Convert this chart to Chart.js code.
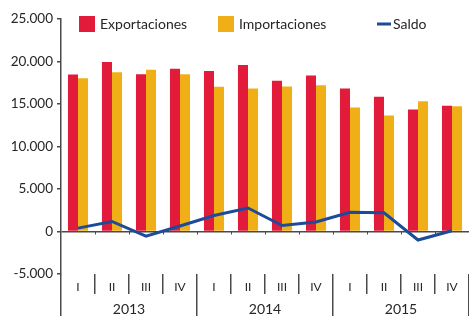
<!DOCTYPE html>
<html>
<head>
<meta charset="utf-8">
<script src="https://cdn.jsdelivr.net/npm/chart.js@4.4.0/dist/chart.umd.min.js"></script>
<style>
    html, body { margin: 0; padding: 0; background: #fff; }
    #wrap { width: 469px; height: 316px; position: relative; }
</style>
</head>
<body>
<div id="wrap"><canvas id="tradeChart"></canvas></div>
<script>
const quarters = ['I', 'II', 'III', 'IV', 'I', 'II', 'III', 'IV', 'I', 'II', 'III', 'IV'];
const years = ['2013', '2014', '2015'];
const exportaciones = [18480, 19930, 18510, 19140, 18870, 19580, 17730, 18360, 16820, 15840, 14350, 14780];
const importaciones = [18040, 18750, 19020, 18510, 17020, 16820, 17060, 17220, 14580, 13640, 15330, 14740];
const saldo = [400, 1180, -540, 650, 1880, 2760, 700, 1120, 2260, 2200, -1000, 80];
const yTicks = [-5000, 0, 5000, 10000, 15000, 20000, 25000];

const AXIS = '#4a4a4a';
const TEXT = '#262626';

Chart.defaults.font.family = 'Lato, "Open Sans", sans-serif';
Chart.defaults.font.size = 13;
Chart.defaults.color = TEXT;

function fmt(v) {
    return String(v).replace(/\B(?=(\d{3})+(?!\d))/g, '.');
}

// legend row drawn inside the top of the plot
const legendRow = {
    id: 'legendRow',
    afterDraw(chart) {
        const ctx = chart.ctx;
        const spots = [79, 218, 377];
        ctx.save();
        ctx.font = '14px Lato, "Open Sans", sans-serif';
        ctx.textBaseline = 'middle';
        chart.data.datasets.forEach((ds, i) => {
            const x = spots[i];
            if (ds.type === 'line') {
                ctx.fillStyle = ds.borderColor;
                ctx.fillRect(x, 22.5, 14, 3);
                ctx.fillStyle = TEXT;
                ctx.fillText(ds.label, x + 16, 24);
            } else {
                ctx.fillStyle = ds.backgroundColor;
                ctx.fillRect(x, 16, 16, 16);
                ctx.fillStyle = TEXT;
                ctx.fillText(ds.label, x + 21, 24);
            }
        });
        ctx.restore();
    },
};

// small ticks under the zero line at quarter boundaries
const zeroTicks = {
    id: 'zeroTicks',
    beforeDatasetsDraw(chart) {
        const { ctx, scales } = chart;
        const y0 = scales.y.getPixelForValue(0);
        ctx.save();
        ctx.strokeStyle = AXIS;
        ctx.lineWidth = 1;
        for (let i = 1; i < quarters.length; i++) {
            const x = Math.round(scales.x.getPixelForValue(i - 0.5)) + 0.5;
            ctx.beginPath();
            ctx.moveTo(x, y0);
            ctx.lineTo(x, y0 + 3);
            ctx.stroke();
        }
        ctx.restore();
    },
};

new Chart(document.getElementById('tradeChart'), {
    data: {
        labels: quarters,
        datasets: [
            {
                type: 'bar',
                label: 'Exportaciones',
                data: exportaciones,
                backgroundColor: '#e31b3b',
                order: 1,
            },
            {
                type: 'bar',
                label: 'Importaciones',
                data: importaciones,
                backgroundColor: '#f0af16',
                order: 1,
            },
            {
                type: 'line',
                label: 'Saldo',
                data: saldo,
                borderColor: '#1d4b98',
                backgroundColor: '#1d4b98',
                borderWidth: 3,
                pointRadius: 0,
                tension: 0,
                order: 0,
            },
        ],
    },
    options: {
        responsive: true,
        maintainAspectRatio: false,
        animation: false,
        layout: { padding: { top: 19, left: 0, right: 0, bottom: 0 } },
        datasets: {
            bar: { categoryPercentage: 0.59, barPercentage: 1 },
        },
        plugins: {
            legend: { display: false },
            tooltip: { enabled: false },
        },
        scales: {
            x: {
                type: 'category',
                offset: true,
                grid: {
                    offset: true,
                    drawOnChartArea: false,
                    tickLength: 20,
                    color: AXIS,
                    lineWidth: 1.5,
                },
                border: { display: false },
                ticks: { padding: -14, maxRotation: 0, autoSkip: false, font: { size: 12 } },
                afterFit: axis => { axis.height = 20; },
            },
            x2: {
                type: 'category',
                position: 'bottom',
                labels: years,
                offset: true,
                grid: {
                    offset: true,
                    drawOnChartArea: false,
                    tickLength: 22,
                    color: AXIS,
                    lineWidth: 1.5,
                },
                border: { display: false },
                ticks: { padding: -15, maxRotation: 0, font: { size: 14 } },
                afterFit: axis => { axis.height = 22; },
            },
            y: {
                min: yTicks[0],
                max: yTicks[yTicks.length - 1],
                afterBuildTicks: axis => {
                    axis.ticks = yTicks.map(v => ({ value: v }));
                },
                afterFit: axis => { axis.width = 61; },
                grid: {
                    color: c => (c.tick && c.tick.value === 0 ? AXIS : 'transparent'),
                    lineWidth: 1.5,
                    tickColor: AXIS,
                    tickLength: 4,
                },
                border: { display: true, color: AXIS, width: 1.5 },
                ticks: {
                    padding: 4,
                    font: { size: 13.5 },
                    callback: v => fmt(v),
                },
            },
        },
    },
    plugins: [zeroTicks, legendRow],
});
</script>
</body>
</html>
